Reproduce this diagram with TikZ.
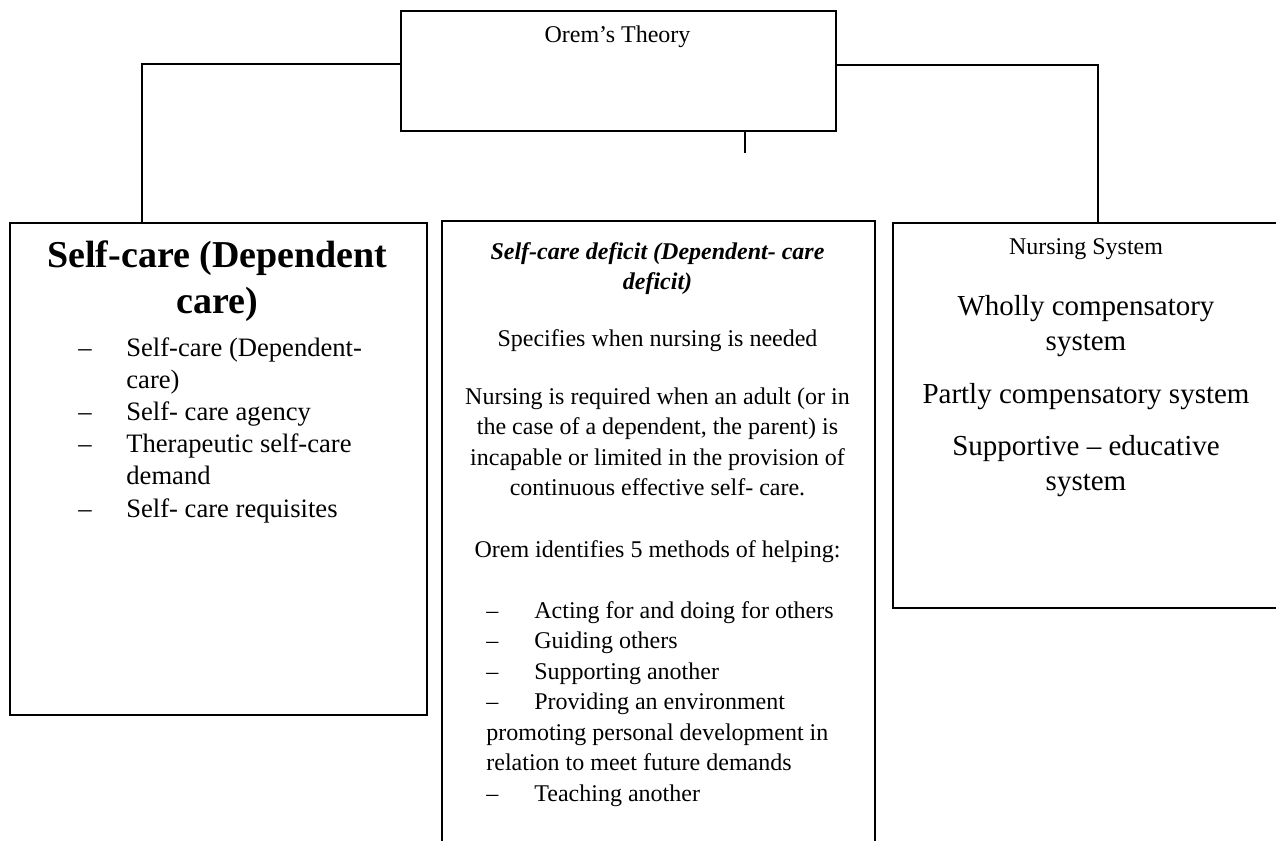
\documentclass[tikz,border=0pt]{standalone}
\usepackage{fontspec}
\setmainfont{Liberation Serif}
\newcommand{\itemdash}{\makebox[24pt][l]{–}}
\begin{document}
\begin{tikzpicture}[x=0.5pt,y=-0.5pt]

  % Definitions
  \tikzstyle{box} = [rectangle, draw=black, line width=1pt, inner sep=0pt, anchor=north west]
  \tikzstyle{txt} = [inner sep=0pt, anchor=base, align=center, font=\fontsize{12}{15.25}\selectfont]
  \tikzstyle{big} = [font=\fontsize{14.5}{17.5}\selectfont]
  \tikzstyle{lst} = [inner sep=0pt, anchor=base west, align=left, font=\fontsize{12}{15.25}\selectfont]
  \tikzstyle{connector} = [line width=0.6pt]

  \clip (0,0) rectangle (1276,841);
  \fill [white] (0,0) rectangle (1276,841);

  % boxes
  \node (theory) [box, minimum width=217.5pt, minimum height=60pt] at (400,10) {};
  \node (selfcare) [box, minimum width=208.5pt, minimum height=246pt] at (9,222) {};
  \node (deficit) [box, minimum width=216.5pt, minimum height=350pt] at (441,220) {};
  \node (nursing) [box, minimum width=194pt, minimum height=192.5pt] at (892,222) {};

  % texts (multi-line nodes sit on their last baseline)
  \node (theorytitle) [txt] at (617.5,42) {Orem’s Theory};

  \node (selfcaretitle) [txt, font=\fontsize{19}{23}\selectfont\bfseries] at (217.5,313) {Self-care (Dependent\\care)};
  \node (selfcarelist) [lst, font=\fontsize{13.3}{16.1}\selectfont] at (78,517) {\itemdash Self-care (Dependent-\\\hspace*{24pt}care)\\\itemdash Self- care agency\\\itemdash Therapeutic self-care\\\hspace*{24pt}demand\\\itemdash Self- care requisites};

  \node (deficittitle) [txt, font=\fontsize{12}{15}\selectfont\bfseries\itshape] at (657.5,289) {Self-care deficit (Dependent- care\\deficit)};
  \node (specifies) [txt] at (657.5,346) {Specifies when nursing is needed};
  \node (required) [txt] at (657.5,495.5) {Nursing is required when an adult (or in\\the case of a dependent, the parent) is\\incapable or limited in the provision of\\continuous effective self- care.};
  \node (methods) [txt] at (657.5,557) {Orem identifies 5 methods of helping:};
  \node (methodlist) [lst] at (486,801) {\itemdash Acting for and doing for others\\\itemdash Guiding others\\\itemdash Supporting another\\\itemdash Providing an environment\\promoting personal development in\\relation to meet future demands\\\itemdash Teaching another};

  \node (nursingtitle) [txt] at (1086,254) {Nursing System};
  \node (wholly) [txt, big] at (1086,350) {Wholly compensatory\\system};
  \node (partly) [txt, big] at (1086,403) {Partly compensatory system};
  \node (supportive) [txt, big] at (1086,490) {Supportive – educative\\system};

  % connectors
  \coordinate (stubend) at (745,153);
  \draw [connector] ([yshift=3.5pt]theory.west) -| ([xshift=-38.25pt]selfcare.north);
  \draw [connector] ([yshift=3pt]theory.east) -| ([xshift=5.5pt]nursing.north);
  \draw [connector] (theory.south -| stubend) -- (stubend);

\end{tikzpicture}
\end{document}
